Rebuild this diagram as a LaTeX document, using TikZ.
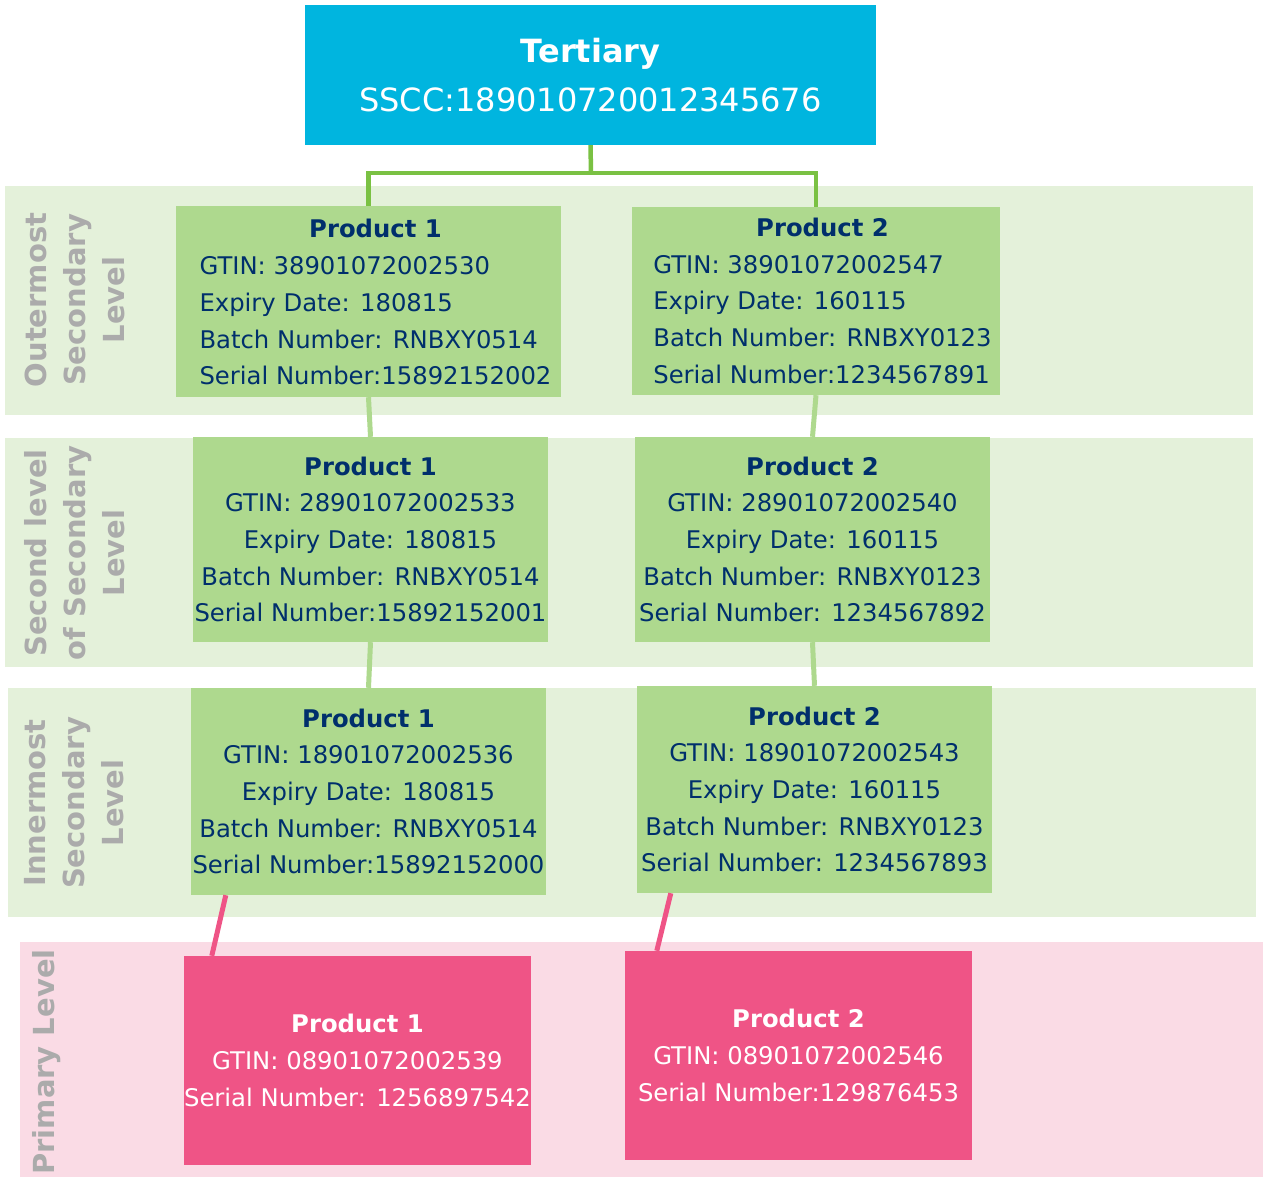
\documentclass[tikz,border=0pt]{standalone}
\usepackage{fontspec}
\setmainfont{DejaVu Sans}
\definecolor{tertblue}{HTML}{00B5DF}
\definecolor{boxgreen}{HTML}{AED98E}
\definecolor{bandgreen}{HTML}{E4F1DA}
\definecolor{linegreen}{HTML}{7AC143}
\definecolor{bandpink}{HTML}{FADBE5}
\definecolor{boxpink}{HTML}{EF5486}
\definecolor{navy}{HTML}{002F6C}
\definecolor{lblgray}{HTML}{ABABAB}
\tikzset{
  band/.style={inner sep=0pt, anchor=north west},
  gbox/.style={fill=boxgreen, inner sep=0pt, text=navy, align=center,
    font=\fontsize{24.3}{36.7}\selectfont},
  pbox/.style={fill=boxpink, inner sep=0pt, text=white, align=center,
    font=\fontsize{24.3}{36.7}\selectfont},
  lbl/.style={rotate=90, text=lblgray, align=center,
    font=\bfseries\fontsize{29}{39}\selectfont},
  tline/.style={linegreen, line width=4.5pt},
  gline/.style={boxgreen, line width=5pt},
  pline/.style={boxpink, line width=5pt}
}
\begin{document}
\begin{tikzpicture}[x=1pt,y=-1pt]
    \useasboundingbox (0,0) rectangle (1264,1177);

    % bands
    \node[band, fill=bandgreen, minimum width=1248, minimum height=229] (band1) at (5,186) {};
    \node[band, fill=bandgreen, minimum width=1248, minimum height=229] (band2) at (5,438) {};
    \node[band, fill=bandgreen, minimum width=1248, minimum height=229] (band3) at (8,688) {};
    \node[band, fill=bandpink, minimum width=1243, minimum height=235] (bandp) at (20,942) {};

    \node[lbl] (lab1) at (74.5,300) {Outermost\\Secondary\\Level};
    \node[lbl] (lab2) at (74.5,553) {Second level\\of Secondary\\Level};
    \node[lbl] (lab3) at (74.5,803) {Innermost\\Secondary\\Level};
    \node[lbl] (labp) at (47,1062) {Primary Level};

    % tertiary
    \node[fill=tertblue, text=white, inner sep=0pt, minimum width=571, minimum height=140,
      align=center, font=\fontsize{32}{49}\selectfont] (tert) at (590.5,75)
      {\textbf{Tertiary}\\SSCC:189010720012345676};

    % outermost
    \node[gbox, minimum width=385, minimum height=191] (o1) at (368.5,301.5) {};
    \node[gbox, fill=none, align=left] (o1txt) at ([xshift=7pt,yshift=-2.5pt]o1.center)
      {\begin{tabular}{@{}l@{}}\multicolumn{1}{@{}c@{}}{\textbf{Product 1}}\\
       GTIN: 38901072002530\\Expiry Date: 180815\\Batch Number: RNBXY0514\\
       Serial Number:15892152002\end{tabular}};
    \node[gbox, minimum width=368, minimum height=188] (o2) at (816,301) {};
    \node[gbox, fill=none, align=left] (o2txt) at ([xshift=6.5pt,yshift=-1.5pt]o2.center)
      {\begin{tabular}{@{}l@{}}\multicolumn{1}{@{}c@{}}{\textbf{Product 2}}\\
       GTIN: 38901072002547\\Expiry Date: 160115\\Batch Number: RNBXY0123\\
       Serial Number:1234567891\end{tabular}};

    % second level
    \node[gbox, minimum width=355, minimum height=205] (s1) at (370.5,539.5)
      {\textbf{Product 1}\\GTIN: 28901072002533\\Expiry Date: 180815\\
       Batch Number: RNBXY0514\\Serial Number:15892152001};
    \node[gbox, minimum width=355, minimum height=205] (s2) at (812.5,539.5)
      {\textbf{Product 2}\\GTIN: 28901072002540\\Expiry Date: 160115\\
       Batch Number: RNBXY0123\\Serial Number: 1234567892};

    % innermost
    \node[gbox, minimum width=355, minimum height=207] (i1) at (368.5,791.5)
      {\textbf{Product 1}\\GTIN: 18901072002536\\Expiry Date: 180815\\
       Batch Number: RNBXY0514\\Serial Number:15892152000};
    \node[gbox, minimum width=355, minimum height=207] (i2) at (814.5,789.5)
      {\textbf{Product 2}\\GTIN: 18901072002543\\Expiry Date: 160115\\
       Batch Number: RNBXY0123\\Serial Number: 1234567893};

    % primary
    \node[pbox, minimum width=347, minimum height=209] (p1) at (357.5,1060.5)
      {\textbf{Product 1}\\GTIN: 08901072002539\\Serial Number: 1256897542};
    \node[pbox, minimum width=347, minimum height=209] (p2) at (798.5,1055.5)
      {\textbf{Product 2}\\GTIN: 08901072002546\\Serial Number:129876453};

    % connectors
    \coordinate (tj) at (591,173);
    \draw[tline] (tert.south) -- (tj);
    \draw[tline] (tj) -| (o1.north);
    \draw[tline] (tj) -| (o2.north);

    \draw[gline] (o1.south) -- (s1.north);
    \draw[gline] (o2.south) -- (s2.north);
    \draw[gline] (s1.south) -- (i1.north);
    \draw[gline] (s2.south) -- (i2.north);

    \coordinate (i1p) at ([xshift=35pt]i1.south west);
    \coordinate (p1p) at ([xshift=28pt]p1.north west);
    \coordinate (i2p) at ([xshift=34pt]i2.south west);
    \coordinate (p2p) at ([xshift=32pt]p2.north west);
    \draw[pline] (i1p) -- (p1p);
    \draw[pline] (i2p) -- (p2p);
\end{tikzpicture}
\end{document}
